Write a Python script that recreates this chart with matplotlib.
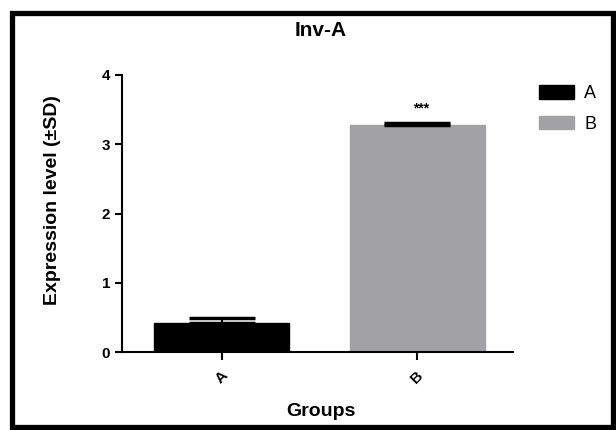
import matplotlib.pyplot as plt
from matplotlib.patches import Rectangle, Patch

plt.rcParams['font.family'] = ['Liberation Sans', 'DejaVu Sans']

groups = ['A', 'B']
means = [0.42, 3.28]
sds = [0.07, 0.02]
colors = ['#000000', '#a2a2a6']
yticks = [0, 1, 2, 3, 4]

fig = plt.figure(figsize=(6.16, 4.30), dpi=100)
# outer black frame around the whole panel
fig.patches.append(Rectangle((12 / 616, 3 / 430), 601 / 616, 414 / 430,
                             transform=fig.transFigure, fill=False,
                             edgecolor='black', linewidth=3.8))

ax = fig.add_axes([122 / 616, 78 / 430, 391 / 616, 277 / 430])
x = range(len(groups))
ax.bar(x, means, width=0.69, color=colors, edgecolor=colors)
ax.errorbar(x, means, yerr=[[0, 0], sds], fmt='none', ecolor='black',
            elinewidth=1.5, capsize=24, capthick=2.5)
ax.annotate('***', (1, means[1] + sds[1]), xytext=(3, 6),
            textcoords='offset points', ha='center', va='bottom',
            fontsize=10, fontweight='bold')

ax.set_xlim(-0.51, 1.49)
ax.set_ylim(0, 4)
ax.set_yticks(yticks)
ax.set_xticks(list(x))
ax.set_xticklabels(groups, rotation=45, fontsize=11, fontweight='bold')
ax.tick_params(axis='y', labelsize=11, width=1.5, length=5)
ax.tick_params(axis='x', width=1.5, length=6, pad=6)
for lbl in ax.get_yticklabels():
    lbl.set_fontweight('bold')
for s in ['top', 'right']:
    ax.spines[s].set_visible(False)
for s in ['left', 'bottom']:
    ax.spines[s].set_linewidth(1.5)

ax.set_ylabel('Expression level (±SD)', fontsize=14, fontweight='bold')
ax.yaxis.set_label_coords(-0.155, 0.55)
ax.set_xlabel('Groups', fontsize=14, fontweight='bold')
ax.xaxis.set_label_coords(0.51, -0.185)
fig.text(321 / 616, 1 - 31 / 430, 'Inv-A', ha='center', va='center',
         fontsize=15, fontweight='bold')

handles = [Patch(facecolor=c, edgecolor=c) for c in colors]
fig.legend(handles, groups, loc='upper left',
           bbox_to_anchor=(523 / 616, 1 - 69 / 430), frameon=False,
           fontsize=13, handlelength=1.9, handleheight=0.75,
           labelspacing=0.75, handletextpad=0.6)

fig.savefig('out.png', dpi=100)
